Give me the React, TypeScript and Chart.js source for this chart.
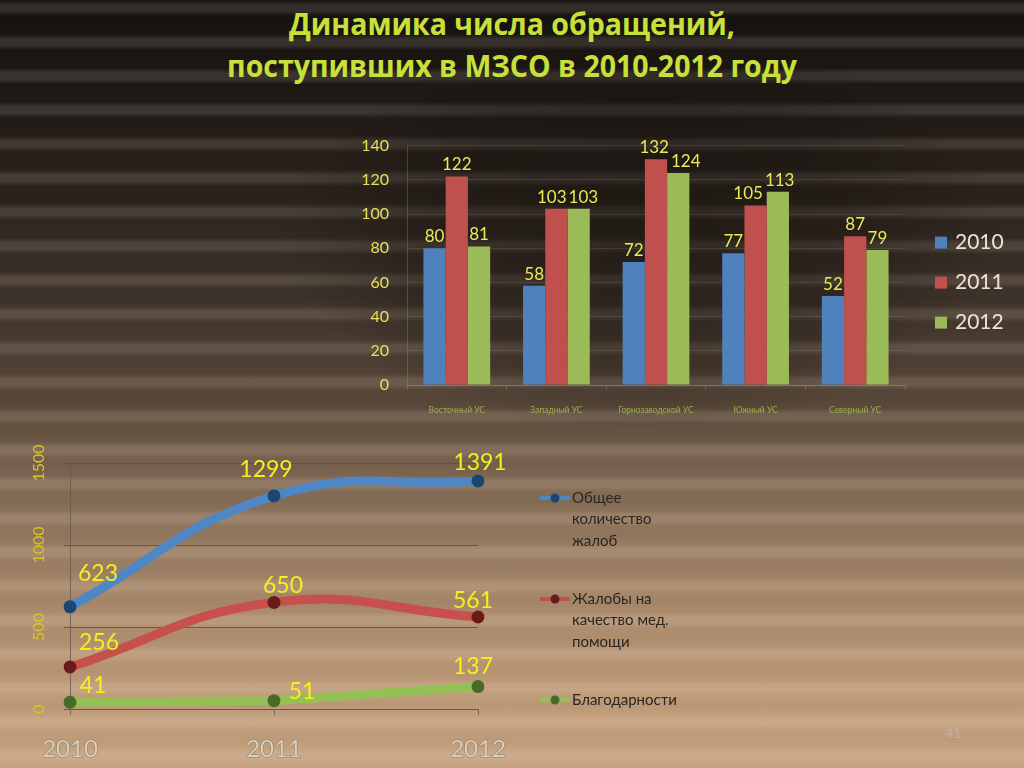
import { useEffect, useRef } from 'react';
import { Chart, registerables } from 'chart.js';

Chart.register(...registerables);

// ---------- Data ----------
const regions = ['Восточный УС', 'Западный УС', 'Горнозаводской УС', 'Южный УС', 'Северный УС'];
const barSeriesNames = ['2010', '2011', '2012'];
const bars2010 = [80, 58, 72, 77, 52];
const bars2011 = [122, 103, 132, 105, 87];
const bars2012 = [81, 103, 124, 113, 79];
const barColors = ['#4f81bd', '#c0504d', '#9bbb59'];

const years = ['2010', '2011', '2012'];
const lineSeriesNames = ['Общее\nколичество\nжалоб', 'Жалобы на\nкачество мед.\nпомощи', 'Благодарности'];
const totalComplaints = [623, 1299, 1391];
const qualityComplaints = [256, 650, 561];
const thanks = [41, 51, 137];

const titleLines = ['Динамика числа обращений,', 'поступивших в МЗСО в 2010-2012 году'];
const slideNumber = '41';

// label placement relative to each point (style only)
const lineLabelOffsets = [
  [[28, -33], [-8, -26], [2, -18]],
  [[29, -24], [9, -17], [-5, -16]],
  [[23, -17], [28, -9], [-5, -20]],
];

const FONT = "Lato, 'Open Sans', 'Noto Sans', sans-serif";

// ---------- Plugins ----------
const barValueLabels = {
  id: 'barValueLabels',
  afterDatasetsDraw(chart: any) {
    const ctx = chart.ctx;
    ctx.save();
    ctx.font = `17px ${FONT}`;
    ctx.fillStyle = '#ece858';
    ctx.textAlign = 'center';
    ctx.textBaseline = 'bottom';
    const H = 17;
    const nDs = chart.data.datasets.length;
    const metas = chart.data.datasets.map((_: any, di: number) => chart.getDatasetMeta(di));
    const nCat = chart.data.labels.length;
    for (let i = 0; i < nCat; i++) {
      const items: any[] = [];
      for (let di = 0; di < nDs; di++) {
        const el = metas[di].data[i];
        const text = String(chart.data.datasets[di].data[i]);
        const w = ctx.measureText(text).width;
        items.push({ text, x: el.x, y: el.y - 3, w, el });
      }
      // avoid overlapping neighbouring bars
      items.forEach((it, di) => {
        for (let dj = 0; dj < nDs; dj++) {
          if (dj === di) continue;
          const b = metas[dj].data[i];
          const bl = b.x - b.width / 2;
          const br = b.x + b.width / 2;
          const l = it.x - it.w / 2;
          const r = it.x + it.w / 2;
          const vOverlap = it.y > b.y && it.y - H < b.base;
          if (vOverlap && r > bl && l < br) {
            if (b.x > it.x) it.x = bl - 2 - it.w / 2;
            else it.x = br + 2 + it.w / 2;
          }
        }
      });
      // avoid overlapping labels
      for (let a = 0; a < nDs; a++) {
        for (let c = a + 1; c < nDs; c++) {
          const A = items[a];
          const C = items[c];
          const hOv = A.x + A.w / 2 + 2 - (C.x - C.w / 2);
          const vOv = Math.abs(A.y - C.y) < H;
          if (hOv > 0 && vOv) {
            A.x -= hOv / 2;
            C.x += hOv / 2;
          }
        }
      }
      items.forEach((it) => ctx.fillText(it.text, it.x, it.y));
    }
    ctx.restore();
  },
};

const barLegend = {
  id: 'barLegend',
  afterDraw(chart: any) {
    const ctx = chart.ctx;
    const area = chart.chartArea;
    ctx.save();
    ctx.font = `21px ${FONT}`;
    ctx.textBaseline = 'middle';
    ctx.textAlign = 'left';
    chart.data.datasets.forEach((ds: any, i: number) => {
      const cy = area.top + 97 + i * 40;
      const bx = area.right + 30;
      ctx.fillStyle = ds.backgroundColor;
      ctx.fillRect(bx, cy - 6, 12, 12);
      ctx.fillStyle = '#efe3d4';
      ctx.fillText(ds.label, bx + 20, cy);
    });
    ctx.restore();
  },
};

const lineValueLabels = {
  id: 'lineValueLabels',
  afterDatasetsDraw(chart: any) {
    const ctx = chart.ctx;
    ctx.save();
    ctx.font = `23px ${FONT}`;
    ctx.fillStyle = '#f4f020';
    ctx.textBaseline = 'middle';
    ctx.textAlign = 'center';
    chart.data.datasets.forEach((ds: any, di: number) => {
      chart.getDatasetMeta(di).data.forEach((el: any, i: number) => {
        const [dx, dy] = lineLabelOffsets[di][i];
        ctx.fillText(String(ds.data[i]), el.x + dx, el.y + dy);
      });
    });
    ctx.restore();
  },
};

const lineLegend = {
  id: 'lineLegend',
  afterDraw(chart: any) {
    const ctx = chart.ctx;
    const area = chart.chartArea;
    ctx.save();
    ctx.font = `15px ${FONT}`;
    ctx.textBaseline = 'middle';
    ctx.textAlign = 'left';
    chart.data.datasets.forEach((ds: any, i: number) => {
      const cy = area.top + 35 + i * 101;
      const x0 = area.right + 62;
      ctx.strokeStyle = ds.borderColor;
      ctx.lineWidth = 4;
      ctx.beginPath();
      ctx.moveTo(x0, cy);
      ctx.lineTo(x0 + 30, cy);
      ctx.stroke();
      ctx.fillStyle = ds.pointBackgroundColor;
      ctx.beginPath();
      ctx.arc(x0 + 15, cy, 4.5, 0, Math.PI * 2);
      ctx.fill();
      ctx.fillStyle = '#2b2622';
      String(ds.label).split('\n').forEach((ln, k) => {
        ctx.fillText(ln, x0 + 32, cy + k * 21.5);
      });
    });
    ctx.restore();
  },
};

export default function App() {
  const barRef = useRef<HTMLCanvasElement>(null);
  const lineRef = useRef<HTMLCanvasElement>(null);

  useEffect(() => {
    const barSeries = [bars2010, bars2011, bars2012];
    const bar = new Chart(barRef.current!, {
      type: 'bar',
      data: {
        labels: regions,
        datasets: barSeries.map((d, i) => ({
          label: barSeriesNames[i],
          data: d,
          backgroundColor: barColors[i],
          borderWidth: 0,
        })),
      },
      options: {
        animation: false,
        responsive: false,
        layout: { padding: { top: 13, right: 119, left: 0, bottom: 0 } },
        datasets: { bar: { categoryPercentage: 0.67, barPercentage: 1 } },
        plugins: { legend: { display: false }, tooltip: { enabled: false } },
        scales: {
          x: {
            grid: { drawOnChartArea: false, color: 'rgba(170,160,150,0.35)', tickLength: 5 },
            border: { color: 'rgba(170,160,150,0.35)' },
            ticks: { color: 'rgba(160,190,80,0.85)', font: { size: 8.5, family: FONT }, padding: 15, autoSkip: false, maxRotation: 0 },
            afterFit: (s: any) => { s.height = 45; },
          },
          y: {
            min: 0,
            max: 140,
            ticks: { stepSize: 20, color: '#e7e05a', font: { size: 16, family: FONT }, padding: 18 },
            grid: { color: 'rgba(170,160,150,0.16)', drawTicks: false },
            border: { color: 'rgba(170,160,150,0.3)' },
            afterFit: (s: any) => { s.width = 67; },
          },
        },
      },
      plugins: [barValueLabels, barLegend],
    } as any);

    const lineColors = ['#4f86c6', '#c8504c', '#95c055'];
    const pointColors = ['#1d4573', '#6a1a18', '#4a6a28'];
    const tensions = [0.45, 0.45, 0];
    const lineSeries = [totalComplaints, qualityComplaints, thanks];
    const line = new Chart(lineRef.current!, {
      type: 'line',
      data: {
        labels: years,
        datasets: lineSeries.map((d, i) => ({
          label: lineSeriesNames[i],
          data: d,
          borderColor: lineColors[i],
          backgroundColor: lineColors[i],
          borderWidth: 9,
          tension: tensions[i],
          pointRadius: 6.5,
          pointBackgroundColor: pointColors[i],
          pointBorderColor: pointColors[i],
          pointBorderWidth: 0,
          fill: false,
        })),
      },
      options: {
        animation: false,
        responsive: false,
        layout: { padding: { top: 28, right: 222, left: 0, bottom: 0 } },
        plugins: { legend: { display: false }, tooltip: { enabled: false } },
        scales: {
          x: {
            offset: false,
            grid: { drawOnChartArea: false, color: 'rgba(100,90,80,0.8)', tickLength: 6 },
            border: { color: 'rgba(100,90,80,0.8)' },
            ticks: {
              color: '#dccdb8',
              textStrokeColor: '#8a7a68',
              textStrokeWidth: 1,
              font: { size: 24, family: FONT },
              padding: 20,
              maxRotation: 0,
            },
            afterFit: (s: any) => { s.height = 59; },
          },
          y: {
            min: 0,
            max: 1500,
            ticks: {
              stepSize: 500,
              minRotation: 90,
              maxRotation: 90,
              crossAlign: 'center',
              color: '#d8c61e',
              font: { size: 16, family: FONT },
              padding: 7,
              callback: (v: any) => String(v),
            },
            grid: { color: 'rgba(90,80,70,0.85)', tickLength: 6 },
            border: { color: 'rgba(100,90,80,0.8)' },
            afterFit: (s: any) => { s.width = 70; },
          },
        },
      },
      plugins: [lineValueLabels, lineLegend],
    } as any);

    return () => {
      bar.destroy();
      line.destroy();
    };
  }, []);

  return (
    <div
      style={{
        position: 'fixed',
        left: 0,
        top: 0,
        width: 1024,
        height: 768,
        overflow: 'hidden',
        background:
          'radial-gradient(ellipse 360px 200px at 640px 230px, rgba(20,16,12,0.55) 0%, rgba(20,16,12,0.35) 60%, rgba(20,16,12,0) 100%),' +
          'repeating-linear-gradient(180deg, rgba(255,235,215,0) 0px, rgba(255,235,215,0.13) 5px, rgba(255,235,215,0.13) 11px, rgba(255,235,215,0) 16px, rgba(0,0,0,0.03) 25px, rgba(255,235,215,0) 34px),' +
          'linear-gradient(180deg, #15110e 0px, #201a16 100px, #2c241e 200px, #3f342b 300px, #5b4a3b 410px, #76614d 460px, #957a60 540px, #ad8d6e 620px, #bf9c7a 700px, #c6a27f 768px)',
      }}
    >
      <div
        style={{
          position: 'absolute',
          left: 0,
          top: 2,
          width: 1024,
          textAlign: 'center',
          color: '#c8e03a',
          fontFamily: "'Open Sans', 'Noto Sans', sans-serif",
          fontWeight: 700,
          fontSize: 31,
          lineHeight: '42px',
          transform: 'scaleX(0.92)',
        }}
      >
        <div>{titleLines[0]}</div>
        <div>{titleLines[1]}</div>
      </div>
      <canvas ref={barRef} width={684} height={312} style={{ position: 'absolute', left: 340, top: 118, display: 'block' }} />
      <canvas ref={lineRef} width={700} height={333} style={{ position: 'absolute', left: 0, top: 435, display: 'block' }} />
      <div
        style={{
          position: 'absolute',
          left: 946,
          top: 725,
          fontFamily: FONT,
          fontSize: 13,
          color: '#c0b2a2',
        }}
      >
        {slideNumber}
      </div>
    </div>
  );
}
